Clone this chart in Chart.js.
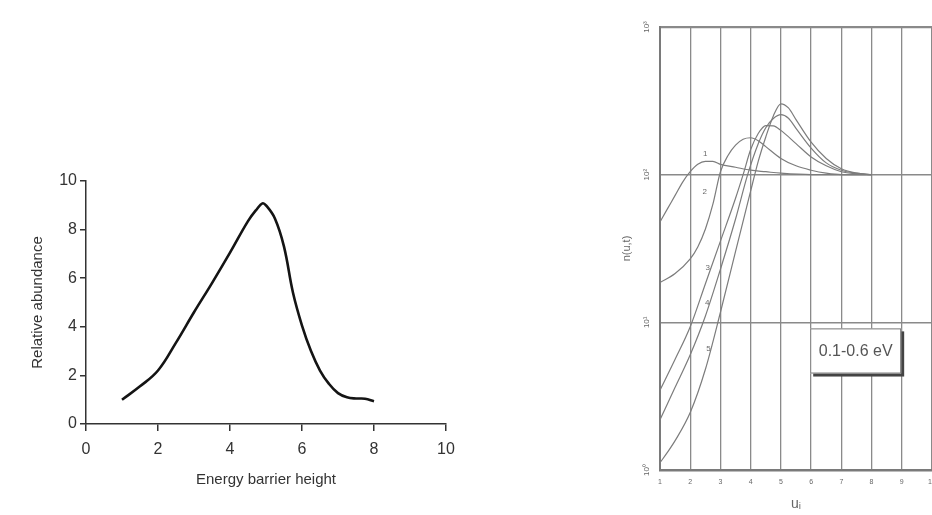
<!DOCTYPE html>
<html><head><meta charset="utf-8">
<script src="https://cdn.jsdelivr.net/npm/chart.js@4/dist/chart.umd.min.js"></script>
<style>
html,body{margin:0;padding:0;width:932px;height:515px;overflow:hidden;background:#fff;}
#c1{position:absolute;left:0;top:0;}
#c2{position:absolute;left:600px;top:0;}
</style></head><body>
<canvas id="c1" width="470" height="515"></canvas>
<canvas id="c2" width="345" height="515"></canvas>
<script>
// ---- Left chart data ----
const energyBarrier = [1, 1.5, 2, 2.5, 3, 3.5, 4, 4.5, 4.75, 4.9, 5, 5.25, 5.5, 5.75, 6, 6.25, 6.5, 6.75, 7, 7.25, 7.5, 7.75, 8];
const relAbundance  = [1.0, 1.55, 2.2, 3.35, 4.6, 5.8, 7.05, 8.35, 8.85, 9.08, 9.0, 8.45, 7.3, 5.4, 4.05, 3.0, 2.2, 1.65, 1.27, 1.1, 1.05, 1.04, 0.94];
const leftXTicks = [0, 2, 4, 6, 8, 10];
const leftYTicks = [0, 2, 4, 6, 8, 10];

// ---- Right chart data (n(u,t), log scale) ----
const curve1U = [1, 1.25, 1.5, 1.75, 2, 2.25, 2.5, 2.75, 3, 3.5, 4, 4.5, 5, 6, 7, 8];
const curve1N = [47.9, 58.9, 72.4, 89.1, 104.7, 117.5, 123, 123, 117.5, 112.2, 107.2, 104.7, 102.3, 100, 100, 100];
const curve2U = [1, 1.5, 2, 2.25, 2.5, 2.75, 3, 3.25, 3.5, 3.75, 4, 4.25, 4.5, 5, 5.5, 6, 6.5, 7, 8];
const curve2N = [18.6, 21.4, 26.9, 32.4, 42.7, 63.1, 104.7, 134.9, 158.5, 173.8, 177.8, 169.8, 154.9, 128.8, 114.8, 107.2, 102.3, 100, 100];
const curve3U = [1, 1.5, 2, 2.5, 3, 3.5, 3.75, 4, 4.25, 4.5, 4.75, 5, 5.5, 6, 6.5, 7, 7.5, 8];
const curve3N = [3.47, 5.62, 9.33, 18.2, 35.5, 69.2, 100, 147.9, 190, 215, 213.8, 199.5, 162.2, 131.8, 114.8, 104.7, 101.2, 100];
const curve4U = [1, 1.5, 2, 2.5, 3, 3.5, 3.9, 4.25, 4.5, 4.75, 5, 5.25, 5.5, 6, 6.5, 7, 7.5, 8];
const curve4N = [2.19, 3.63, 6.03, 11.0, 22.9, 50.1, 100, 162, 208, 240, 255, 241, 206, 151.4, 120.2, 107.2, 102.3, 100];
const curve5U = [1, 1.25, 1.5, 2, 2.5, 3, 3.5, 4, 4.25, 4.5, 4.75, 5, 5.25, 5.5, 6, 6.5, 7, 7.5, 8];
const curve5N = [1.12, 1.32, 1.58, 2.45, 4.79, 11.7, 30.2, 77.6, 123, 180, 250, 302, 283, 236, 166, 128.8, 109.6, 102.3, 100];
const curveNames = ['1', '2', '3', '4', '5'];
const curveLabelU = [2.5, 2.48, 2.58, 2.56, 2.6];
const curveLabelN = [138, 77, 23.4, 13.5, 6.6];
const rightXTicks = [1, 2, 3, 4, 5, 6, 7, 8, 9, 10];
const rightYTicks = [1, 10, 100, 1000];
const rightYTickLabels = ['10\u2070', '10\u00B9', '10\u00B2', '10\u00B3'];
const boxText = '0.1-0.6 eV';

Chart.defaults.font.family = "'Liberation Sans', Arial, sans-serif";

const toXY = (xs, ys) => xs.map((x, i) => ({x: x, y: ys[i]}));

// Left chart
new Chart(document.getElementById('c1'), {
  type: 'line',
  data: { datasets: [{
    data: toXY(energyBarrier, relAbundance),
    borderColor: '#141414', borderWidth: 2.6, pointRadius: 0, fill: false,
    tension: 0.4
  }]},
  options: {
    responsive: false, animation: false, devicePixelRatio: 1,
    layout: { padding: { top: 181, right: 24, left: 0, bottom: 0 } },
    plugins: { legend: { display: false }, tooltip: { enabled: false } },
    scales: {
      x: {
        type: 'linear', min: 0, max: 10,
        afterBuildTicks: s => { s.ticks = leftXTicks.map(v => ({ value: v })); },
        ticks: { font: { size: 16 }, color: '#333', padding: 9, maxRotation: 0 },
        grid: { drawOnChartArea: false, drawTicks: true, tickLength: 7, color: '#333', lineWidth: 1.5 },
        border: { color: '#333', width: 1.5 },
        title: { display: true, text: 'Energy barrier height', font: { size: 15 }, color: '#333', padding: { top: 0, bottom: 26 } },
        afterFit: s => { s.height = 91; }
      },
      y: {
        type: 'linear', min: 0, max: 10,
        afterBuildTicks: s => { s.ticks = leftYTicks.map(v => ({ value: v })); },
        ticks: { font: { size: 16 }, color: '#333', padding: 3 },
        grid: { drawOnChartArea: false, drawTicks: true, tickLength: 6, color: '#333', lineWidth: 1.5 },
        border: { color: '#333', width: 1.5 },
        title: { display: true, text: 'Relative abundance', font: { size: 15 }, color: '#333', padding: { top: 29, bottom: 0 } },
        afterFit: s => { s.width = 86; }
      }
    }
  }
});

// Right chart
const annotPlugin = {
  id: 'annot',
  afterDatasetsDraw(chart) {
    const ctx = chart.ctx, xs = chart.scales.x, ys = chart.scales.y;
    ctx.save();
    ctx.fillStyle = '#6a6a6a';
    ctx.font = "8px 'Liberation Sans', Arial, sans-serif";
    ctx.textAlign = 'center'; ctx.textBaseline = 'middle';
    curveNames.forEach((t, i) => {
      ctx.fillText(t, xs.getPixelForValue(curveLabelU[i]), ys.getPixelForValue(curveLabelN[i]));
    });
    // box
    const x0 = xs.getPixelForValue(5.97), x1 = xs.getPixelForValue(8.98);
    const y0 = ys.getPixelForValue(9.1), y1 = ys.getPixelForValue(4.5);
    ctx.fillStyle = '#444';
    ctx.fillRect(x0 + 3, y0 + 3, x1 - x0, y1 - y0);
    ctx.fillStyle = '#fff';
    ctx.fillRect(x0, y0, x1 - x0, y1 - y0);
    ctx.strokeStyle = '#777'; ctx.lineWidth = 1;
    ctx.strokeRect(x0 + 0.5, y0 + 0.5, x1 - x0 - 1, y1 - y0 - 1);
    ctx.fillStyle = '#555';
    ctx.font = "16px 'Liberation Sans', Arial, sans-serif";
    ctx.fillText(boxText, (x0 + x1) / 2, (y0 + y1) / 2 + 1);
    ctx.restore();
  }
};

const curveColor = '#7c7c7c';
new Chart(document.getElementById('c2'), {
  type: 'line',
  data: { datasets: [
    toXY(curve1U, curve1N), toXY(curve2U, curve2N), toXY(curve3U, curve3N),
    toXY(curve4U, curve4N), toXY(curve5U, curve5N)
  ].map(d => ({ data: d, borderColor: curveColor, borderWidth: 1.2, pointRadius: 0, fill: false, cubicInterpolationMode: 'monotone' })) },
  options: {
    responsive: false, animation: false, devicePixelRatio: 1,
    layout: { padding: { top: 27, right: 13, left: 0, bottom: 0 } },
    plugins: { legend: { display: false }, tooltip: { enabled: false } },
    scales: {
      x: {
        type: 'linear', min: 1, max: 10,
        afterBuildTicks: s => { s.ticks = rightXTicks.map(v => ({ value: v })); },
        ticks: { font: { size: 7 }, color: '#666', padding: 8, maxRotation: 0 },
        grid: { drawTicks: false, color: '#8a8a8a', lineWidth: 1.3 },
        border: { color: '#7a7a7a', width: 2.5 },
        title: { display: true, text: 'u\u1D62', font: { size: 14 }, color: '#666', padding: { top: 0, bottom: 2 } },
        afterFit: s => { s.height = 45; }
      },
      y: {
        type: 'logarithmic', min: 1, max: 1000,
        afterBuildTicks: s => { s.ticks = rightYTicks.map(v => ({ value: v })); },
        ticks: { font: { size: 8 }, color: '#666', padding: 7, minRotation: 90, maxRotation: 90, crossAlign: 'center',
                 callback: (v, i) => rightYTickLabels[i] },
        grid: { drawTicks: false, color: '#8a8a8a', lineWidth: c => (c.index === 3 ? 2.2 : 1.5) },
        border: { color: '#7a7a7a', width: 2 },
        title: { display: true, text: 'n(u,t)', font: { size: 11 }, color: '#666', padding: { top: 20, bottom: 0 } },
        afterFit: s => { s.width = 60; }
      }
    }
  },
  plugins: [annotPlugin]
});
</script>
</body></html>
